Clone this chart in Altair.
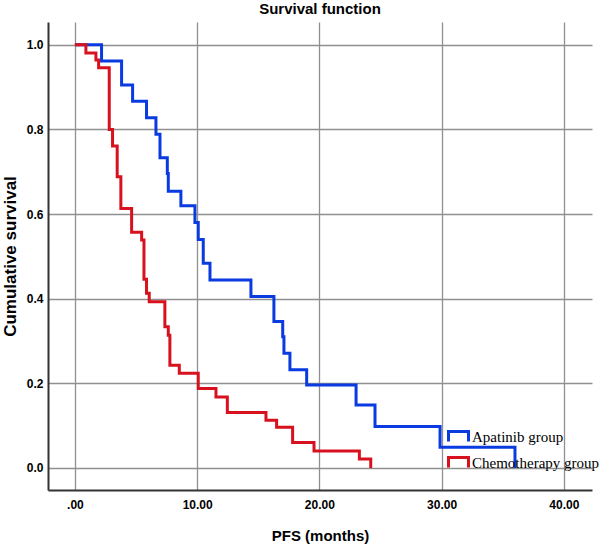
import altair as alt
import pandas as pd

# Kaplan-Meier step points: (months, cumulative survival after the step)
apatinib_months = [0, 2.18, 3.82, 4.72, 5.86, 6.63, 6.96, 7.56, 7.64, 8.67,
                   9.82, 10.09, 10.50, 11.05, 14.40, 16.28, 17.00, 17.10, 17.59, 18.96,
                   23.00, 24.55, 29.87, 36.00]
apatinib_surv = [1.0, 0.962, 0.905, 0.867, 0.828, 0.789, 0.733, 0.696, 0.654, 0.620,
                 0.580, 0.540, 0.484, 0.444, 0.405, 0.346, 0.310, 0.271, 0.232, 0.196,
                 0.149, 0.098, 0.049, 0.0]

chemo_months = [0, 0.90, 1.72, 1.94, 2.81, 3.08, 3.46, 3.76, 4.64, 5.46,
                5.65, 5.86, 6.08, 7.36, 7.64, 7.77, 8.54, 10.09, 11.54, 12.47,
                15.63, 16.50, 17.81, 19.56, 23.27, 24.20]
chemo_surv = [1.0, 0.981, 0.964, 0.946, 0.800, 0.761, 0.688, 0.613, 0.557, 0.539,
              0.446, 0.413, 0.393, 0.334, 0.314, 0.243, 0.224, 0.188, 0.168, 0.131,
              0.113, 0.096, 0.060, 0.040, 0.021, 0.0]

groups = ["Apatinib group", "Chemotherapy group"]
colors = ["#0a3be0", "#d8111f"]

x_ticks = [0, 10, 20, 30, 40]
y_ticks = [0.0, 0.2, 0.4, 0.6, 0.8, 1.0]

rows = []
for i, (t, s) in enumerate(zip(apatinib_months, apatinib_surv)):
    rows.append({"group": groups[0], "months": t, "survival": s, "idx": i})
for i, (t, s) in enumerate(zip(chemo_months, chemo_surv)):
    rows.append({"group": groups[1], "months": t, "survival": s, "idx": i})
df = pd.DataFrame(rows)

sans = "Liberation Sans, Arial, sans-serif"

chart = (
    alt.Chart(df)
    .mark_line(interpolate="step-after", strokeWidth=3, clip=True)
    .encode(
        x=alt.X(
            "months:Q",
            scale=alt.Scale(domain=[-2.2, 42.3], nice=False, zero=False),
            axis=alt.Axis(
                values=x_ticks,
                labelExpr="datum.value == 0 ? '.00' : format(datum.value, '.2f')",
                title="PFS (months)",
                labelPadding=9,
                titlePadding=18,
                titleFontSize=15,
            ),
        ),
        y=alt.Y(
            "survival:Q",
            scale=alt.Scale(domain=[-0.052, 1.054], nice=False, zero=False),
            axis=alt.Axis(
                values=y_ticks,
                format=".1f",
                title="Cumulative survival",
                labelPadding=5,
                titlePadding=7,
                titleFontSize=17,
            ),
        ),
        color=alt.Color(
            "group:N",
            scale=alt.Scale(domain=groups, range=colors),
            legend=alt.Legend(
                title=None,
                orient="none",
                legendX=399,
                legendY=403,
                symbolType="M-1,0.5L-1,-0.5L1,-0.5L1,0.5",
                symbolSize=400,
                symbolStrokeWidth=3,
                symbolFillColor="transparent",
                labelFont="Liberation Serif, Times New Roman, serif",
                labelFontSize=15,
                labelColor="#000",
                rowPadding=3,
                labelOffset=2,
            ),
        ),
        order="idx:Q",
    )
    .properties(
        width=544,
        height=468,
        autosize="none",
        padding={"left": 48, "top": 22, "right": 22, "bottom": 60},
        title=alt.Title(
            "Survival function",
            fontSize=15,
            fontWeight="bold",
            font=sans,
            color="#000",
            offset=5,
        ),
    )
    .configure_view(stroke=None)
    .configure_axis(
        domainColor="#333333",
        domainWidth=2,
        gridColor="#909090",
        gridWidth=1.3,
        ticks=False,
        labelFont=sans,
        labelFontSize=12,
        labelFontWeight="bold",
        labelColor="#000",
        titleFont=sans,
        titleFontWeight="bold",
        titleColor="#000",
    )
)

chart.save("out.html", embed_options={"renderer": "svg", "actions": False})
